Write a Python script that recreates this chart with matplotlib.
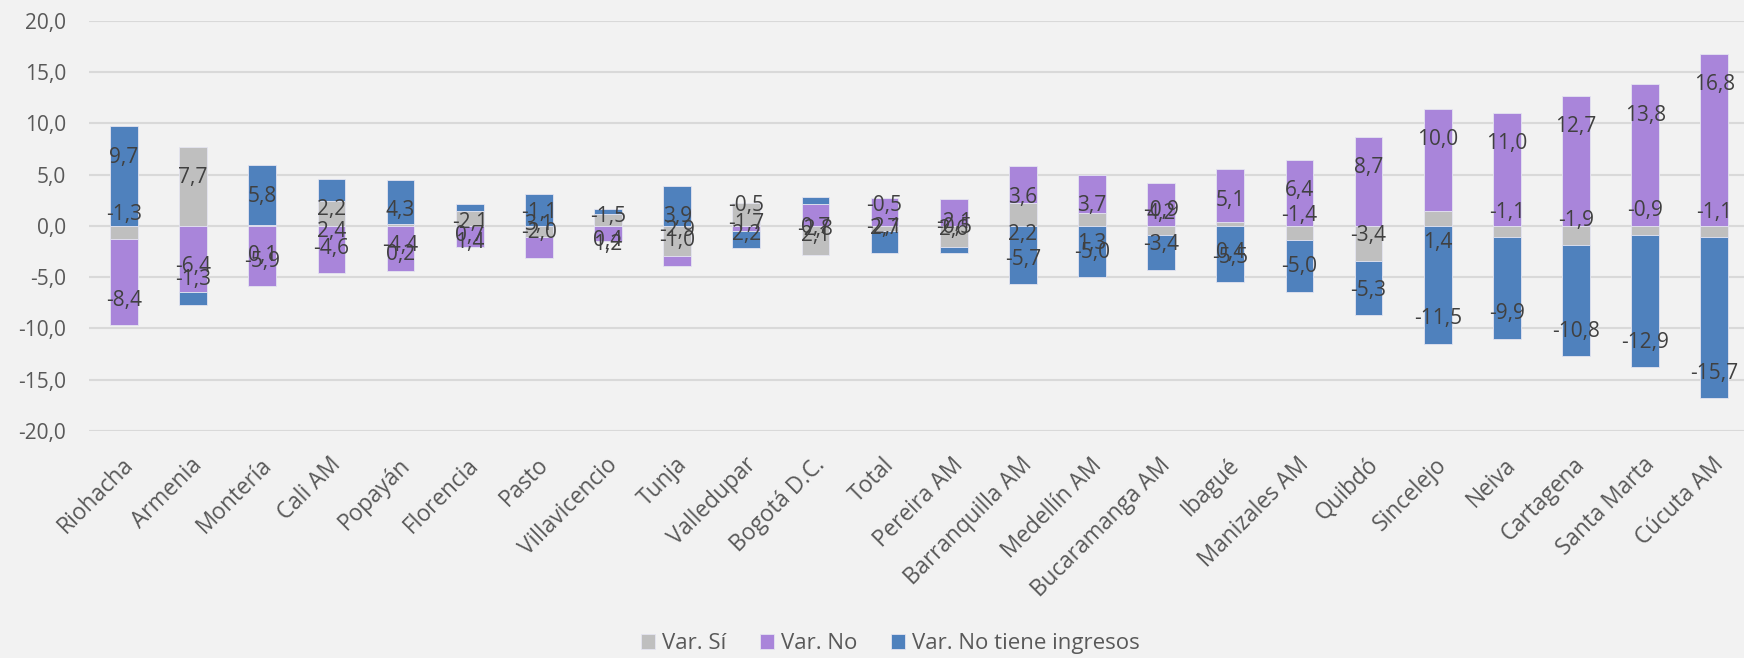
import matplotlib
matplotlib.use("Agg")
import matplotlib.pyplot as plt
import matplotlib.transforms as mtransforms
import numpy as np
from matplotlib.ticker import FuncFormatter

plt.rcParams['font.family'] = ['Open Sans', 'DejaVu Sans']

# datos: variación por ciudad
ciudades = ["Riohacha", "Armenia", "Montería", "Cali AM", "Popayán", "Florencia",
            "Pasto", "Villavicencio", "Tunja", "Valledupar", "Bogotá D.C.", "Total",
            "Pereira AM", "Barranquilla AM", "Medellín AM", "Bucaramanga AM", "Ibagué",
            "Manizales AM", "Quibdó", "Sincelejo", "Neiva", "Cartagena", "Santa Marta",
            "Cúcuta AM"]
var_si = [-1.3, 7.7, 0.1, 2.4, 0.2, 1.4, -1.1, 1.2, -2.9, 2.2, -2.8, -0.5,
          -2.1, 2.2, 1.3, -0.9, 0.4, -1.4, -3.4, 1.4, -1.1, -1.9, -0.9, -1.1]
var_no = [-8.4, -6.4, -5.9, -4.6, -4.4, -2.1, -2.0, -1.5, -1.0, -0.5, 2.1, 2.7,
          2.6, 3.6, 3.7, 4.2, 5.1, 6.4, 8.7, 10.0, 11.0, 12.7, 13.8, 16.8]
var_sin_ingresos = [9.7, -1.3, 5.8, 2.2, 4.3, 0.7, 3.1, 0.4, 3.9, -1.7, 0.7, -2.1,
                    -0.5, -5.7, -5.0, -3.4, -5.5, -5.0, -5.3, -11.5, -9.9, -10.8, -12.9, -15.7]

series = [("Var. Sí", var_si, "#bfbfbf"),
          ("Var. No", var_no, "#a985da"),
          ("Var. No tiene ingresos", var_sin_ingresos, "#4f81bd")]

fig = plt.figure(figsize=(17.44, 6.58), dpi=100, facecolor="#f2f2f2")
ax = fig.add_axes([0.0513, 0.345, 0.9487, 0.6235], facecolor="#f2f2f2")

x = np.arange(len(ciudades))
pos_base = np.zeros(len(ciudades))
neg_base = np.zeros(len(ciudades))

for nombre, vals, color in series:
    vals = np.array(vals)
    base = np.where(vals >= 0, pos_base, neg_base)
    ax.bar(x, vals, bottom=base, width=0.4, color=color, label=nombre,
           edgecolor="#e4e4f0", linewidth=0.6, zorder=3)
    # etiquetas tipo "inside end" como en Excel
    for xi, v, b in zip(x, vals, base):
        fin = b + v
        dy = -30.75 if v >= 0 else 25
        ax.annotate(f"{v:.1f}".replace(".", ","), xy=(xi, fin), xytext=(0, dy),
                    textcoords="offset pixels", ha="center", va="center",
                    fontsize=15, color="#404040", zorder=5)
    pos_base = pos_base + np.where(vals >= 0, vals, 0)
    neg_base = neg_base + np.where(vals < 0, vals, 0)

ax.set_ylim(-20, 20)
ax.set_yticks(np.arange(-20, 21, 5))
ax.yaxis.set_major_formatter(FuncFormatter(lambda v, p: f"{v:.1f}".replace(".", ",")))
ax.set_xlim(-0.5, 23.43)
ax.set_xticks(x)
ax.set_xticklabels(ciudades, rotation=45, ha="right", va="center", rotation_mode="anchor")
ax.tick_params(axis="x", length=0, pad=22, labelsize=16.3, labelcolor="#595959")
ax.tick_params(axis="y", length=0, pad=17, labelsize=15, labelcolor="#595959")
desplaza = mtransforms.ScaledTranslation(6 / 100, 0, fig.dpi_scale_trans)
for t in ax.get_xticklabels():
    t.set_transform(t.get_transform() + desplaza)
ax.grid(axis="y", color="#d9d9d9", linewidth=1.5, zorder=0)
for s in ax.spines.values():
    s.set_visible(False)

fig.legend(loc="center", bbox_to_anchor=(0.5106, 0.0213), ncol=3, frameon=False,
           fontsize=16, labelcolor="#595959", handlelength=0.62, handleheight=0.68,
           handletextpad=0.31, columnspacing=1.53)

fig.savefig("out.png", dpi=100, facecolor=fig.get_facecolor())
